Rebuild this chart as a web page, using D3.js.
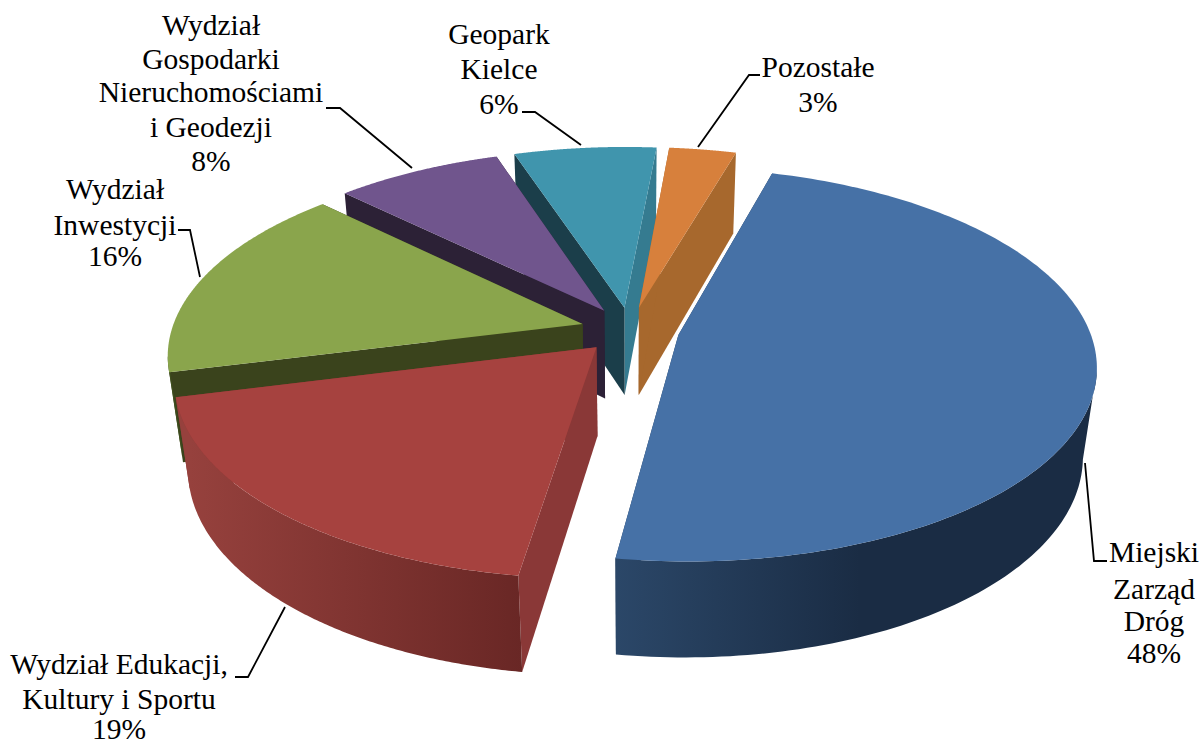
<!DOCTYPE html>
<html><head><meta charset="utf-8">
<script src="https://cdnjs.cloudflare.com/ajax/libs/d3/7.8.5/d3.min.js"></script>
<style>html,body{margin:0;background:#fff}svg{display:block}</style>
</head><body><svg id="c" width="1201" height="745"></svg>
<script>
const categories=["Miejski Zarząd Dróg","Wydział Edukacji, Kultury i Sportu","Wydział Inwestycji","Wydział Gospodarki Nieruchomościami i Geodezji","Geopark Kielce","Pozostałe"];
const values=[47.9,18.7,16.3,7.6,6.49,3.05];
const labelLines=[["Miejski","Zarząd","Dróg","48%"],["Wydział Edukacji,","Kultury i Sportu","19%"],["Wydział","Inwestycji","16%"],["Wydział","Gospodarki","Nieruchomościami","i Geodezji","8%"],["Geopark","Kielce","6%"],["Pozostałe","3%"]];
const topColors=["#4671a6","#a6423f","#8aa54c","#70558d","#4095ad","#d7803c"];
const startFaceColors=["#223a57","#8a3837","#3a431c","#2c2136","#1b3e4a","#a7682d"];
const endFaceColors=["#223a57","#8a3837","#3a431c","#2c2136","#357b90","#a7682d"];
const wallStart=["#2b4768","#96413d","#3f4f1e","#2c2136","#1b3e4a","#a7682d"];
const wallEnd=["#1a2c44","#692725","#3f4f1e","#2c2136","#1b3e4a","#a7682d"];
const paintOrder=[4,5,3,2,1,0];
const labelLayout=[
 {x:1154,ys:[553,590,622,654],leader:[[1085,463],[1094,561],[1107,561]]},
 {x:119,ys:[665,700,730],leader:[[285,607],[248,677],[235,677]]},
 {x:115,ys:[190,226,257],leader:[[200,277],[190,230],[178,230]]},
 {x:211,ys:[26,60,93,128,162],leader:[[412,168],[340,108],[326,108]]},
 {x:499,ys:[35,70,105],leader:[[581,145],[535,112],[522,112]]},
 {x:818,ys:[68,103],leader:[[698,147],[749,75],[760,75]]}
];
const cx=630,cy=330,Rx=411,Ry=191,depth=91,persp=0.15,perspZ=0.03,explode=0.12,firstAngle=16.1;
const rad=d=>d*Math.PI/180;
const svg=d3.select("#c");
const defs=svg.append("defs");
const pie=d3.pie().sort(null).startAngle(rad(firstAngle)).endAngle(rad(firstAngle+360));
const arcs=pie(values);
function project(s,a,r,z){
  const m=(s.startAngle+s.endAngle)/2;
  const u=explode*Math.sin(m)+r*Math.sin(a), v=-explode*Math.cos(m)-r*Math.cos(a);
  const w=1/(1-persp*v+perspZ*z);
  return [cx+Rx*u*w, cy+Ry*v*w+depth*z*w];
}
const line=d3.line();
paintOrder.forEach(i=>{
  const s=arcs[i];
  const angles=d3.range(0,161).map(k=>s.startAngle+(s.endAngle-s.startAngle)*k/160);
  const g=svg.append("g");
  const face=(a,c)=>g.append("path").attr("fill",c).attr("d",line([project(s,a,0,0),project(s,a,1,0),project(s,a,1,1),project(s,a,0,1)])+"Z");
  face(s.endAngle,endFaceColors[i]);
  face(s.startAngle,startFaceColors[i]);
  const tp=angles.map(a=>project(s,a,1,0));
  // only the front-facing part of the outer wall: screen x falls as the angle grows
  const front=angles.filter((a,k)=>{
    const p=project(s,a,1,0), q=project(s,a+0.002,1,0), p1=project(s,a,1,1), q1=project(s,a+0.002,1,1);
    return q[0]<p[0] || q1[0]<p1[0];
  });
  if(front.length>1){
    const wt=front.map(a=>project(s,a,1,0)), wb=front.map(a=>project(s,a,1,1));
    const xs=wb.map(p=>p[0]);
    const id="wall"+i, lg=defs.append("linearGradient").attr("id",id).attr("gradientUnits","userSpaceOnUse")
      .attr("x1",d3.min(xs)).attr("x2",i==0?860:d3.max(xs)).attr("y1",0).attr("y2",0);
    lg.append("stop").attr("offset",0).attr("stop-color",wallStart[i]);
    lg.append("stop").attr("offset",1).attr("stop-color",wallEnd[i]);
    g.append("path").attr("fill",`url(#${id})`).attr("d",line(wt.concat(wb.slice().reverse()))+"Z");
  }
  g.append("path").attr("fill",topColors[i]).attr("d",line([project(s,0,0,0)].concat(tp))+"Z");
});
labelLayout.forEach((l,i)=>{
  svg.append("path").attr("fill","none").attr("stroke","#000").attr("stroke-width",1.8).attr("d",line(l.leader));
  labelLines[i].forEach((t,k)=>svg.append("text").attr("x",l.x).attr("y",l.ys[k]+9).attr("text-anchor","middle")
    .attr("font-family","'Liberation Serif',serif").attr("font-size",29.5).attr("fill","#000").text(t));
});
</script></body></html>
